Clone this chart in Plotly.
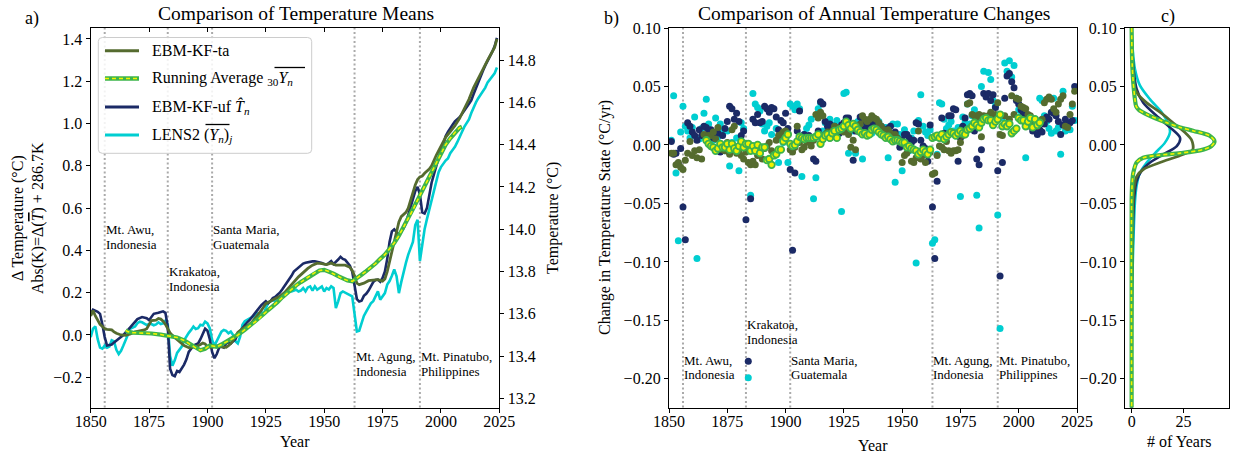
import plotly.graph_objects as go

W, H = 1235, 456
FONT = "Liberation Serif"

C_TA = "#556b2f"
C_UF = "#1b2a66"
C_LENS = "#00ced1"
C_RA_EDGE = "#3cb44b"
C_RA = "#f2f200"
C_VOLC = "#aaaaaa"

# ---------------- data ----------------
volcano_years = [1856, 1883, 1902, 1963, 1991]
volcano_line1 = ["Mt. Awu,", "Krakatoa,", "Santa Maria,", "Mt. Agung,", "Mt. Pinatubo,"]
volcano_line2 = ["Indonesia", "Indonesia", "Guatemala", "Indonesia", "Philippines"]

# Panel a: temperature means (anomaly, deg C)
uf_years = [1850, 1851, 1853, 1854, 1855, 1856, 1857, 1859, 1860, 1862, 1864, 1866, 1868, 1870, 1872, 1874,
            1875, 1877, 1879, 1881, 1882, 1883, 1884, 1885, 1886, 1887, 1888, 1889, 1890, 1891, 1892, 1893,
            1894, 1895, 1896, 1897, 1898, 1899, 1900, 1901, 1902, 1903, 1904, 1905, 1906, 1907, 1908, 1909,
            1910, 1911, 1912, 1913, 1914, 1915, 1916, 1917, 1918, 1919, 1920, 1921, 1922, 1923, 1924, 1925,
            1926, 1927, 1928, 1929, 1930, 1931, 1932, 1933, 1934, 1935, 1936, 1937, 1938, 1939, 1940, 1941,
            1942, 1943, 1944, 1945, 1946, 1947, 1948, 1949, 1950, 1951, 1952, 1953, 1954, 1955, 1956, 1957,
            1958, 1959, 1960, 1961, 1962, 1963, 1964, 1965, 1966, 1967, 1968, 1969, 1970, 1971, 1972, 1973,
            1974, 1975, 1976, 1977, 1978, 1979, 1980, 1981, 1982, 1983, 1984, 1985, 1986, 1987, 1988, 1989,
            1990, 1991, 1992, 1993, 1994, 1995, 1996, 1997, 1998, 1999, 2000, 2001, 2002, 2003, 2004, 2005,
            2006, 2007, 2008, 2009, 2010, 2011, 2012, 2013, 2014, 2015, 2016, 2017, 2018, 2019, 2020, 2021,
            2022, 2023, 2024]
uf_vals = [0.10, 0.12, 0.11, 0.10, 0.05, -0.01, -0.05, -0.045, -0.035, -0.016, 0.0, 0.024, 0.048, 0.075, 0.085, 0.079,
           0.07, 0.10, 0.105, 0.112, 0.105, 0.04, -0.16, -0.19, -0.195, -0.17, -0.175, -0.16, -0.14, -0.115, -0.08, -0.065,
           -0.05, -0.045, -0.04, -0.02, 0.01, 0.03, 0.02, -0.02, -0.08, -0.11, -0.09, -0.06, -0.055, -0.06, -0.04, -0.035,
           -0.04, -0.03, -0.02, 0.005, 0.02, 0.035, 0.05, 0.06, 0.07, 0.085, 0.10, 0.11, 0.125, 0.14, 0.15, 0.16,
           0.15, 0.16, 0.175, 0.18, 0.19, 0.20, 0.215, 0.23, 0.245, 0.26, 0.28, 0.30, 0.31, 0.32, 0.33, 0.338,
           0.342, 0.345, 0.347, 0.348, 0.349, 0.347, 0.343, 0.34, 0.336, 0.334, 0.34, 0.349, 0.335, 0.345, 0.357, 0.37,
           0.36, 0.355, 0.34, 0.328, 0.30, 0.23, 0.17, 0.158, 0.162, 0.185, 0.195, 0.21, 0.23, 0.25, 0.26, 0.262,
           0.252, 0.27, 0.30, 0.36, 0.44, 0.49, 0.50, 0.485, 0.475, 0.49, 0.505, 0.53, 0.565, 0.61, 0.645, 0.68,
           0.70, 0.665, 0.58, 0.575, 0.60, 0.66, 0.72, 0.76, 0.80, 0.84, 0.875, 0.90, 0.94, 0.96, 0.98, 0.995,
           1.01, 1.02, 1.03, 1.045, 1.06, 1.075, 1.09, 1.11, 1.14, 1.17, 1.20, 1.225, 1.25, 1.275, 1.295, 1.32,
           1.34, 1.365, 1.405]

ta_years = [1850, 1851, 1852, 1853, 1854, 1855, 1856, 1857, 1858, 1859, 1860, 1861, 1863, 1865, 1867, 1869,
            1871, 1873, 1874, 1875, 1876, 1878, 1879, 1880, 1881, 1882, 1883, 1884, 1885, 1886, 1888, 1890,
            1892, 1894, 1895, 1897, 1898, 1899, 1900, 1902, 1904, 1906, 1908, 1909, 1910, 1911, 1912, 1913,
            1915, 1917, 1919, 1921, 1923, 1925, 1927, 1929, 1931, 1933, 1935, 1937, 1939, 1941, 1943, 1945,
            1947, 1949, 1951, 1953, 1955, 1957, 1959, 1961, 1962, 1963, 1964, 1965, 1967, 1969, 1971, 1973,
            1975, 1976, 1977, 1978, 1979, 1980, 1981, 1982, 1983, 1984, 1985, 1986, 1987, 1988, 1989, 1990,
            1991, 1992, 1993, 1995, 1996, 1998, 2000, 2002, 2004, 2006, 2008, 2010, 2012, 2014, 2016, 2018,
            2020, 2022, 2023, 2024]
ta_vals = [0.09, 0.115, 0.09, 0.07, 0.05, 0.04, 0.03, 0.027, 0.025, 0.024, 0.015, 0.008, 0.0, -0.002, 0.005, 0.015,
           0.02, 0.024, 0.03, 0.05, 0.068, 0.07, 0.078, 0.075, 0.065, 0.05, 0.03, 0.01, -0.002, -0.012, -0.03, -0.05,
           -0.06, -0.058, -0.056, -0.045, -0.038, -0.042, -0.055, -0.058, -0.052, -0.056, -0.058, -0.05, -0.04, -0.025, -0.005, 0.012,
           0.03, 0.042, 0.06, 0.085, 0.115, 0.148, 0.16, 0.17, 0.183, 0.20, 0.225, 0.252, 0.275, 0.295, 0.315, 0.33,
           0.34, 0.338, 0.333, 0.34, 0.33, 0.33, 0.33, 0.32, 0.305, 0.28, 0.245, 0.238, 0.245, 0.257, 0.26, 0.262,
           0.255, 0.265, 0.30, 0.35, 0.39, 0.44, 0.485, 0.535, 0.56, 0.57, 0.58, 0.60, 0.64, 0.675, 0.71, 0.735,
           0.748, 0.752, 0.765, 0.785, 0.80, 0.85, 0.895, 0.935, 0.962, 0.99, 1.025, 1.07, 1.115, 1.17, 1.215, 1.26,
           1.30, 1.34, 1.36, 1.40]

ra_years = [1865, 1866, 1868, 1872, 1876, 1880, 1884, 1887, 1890, 1892, 1894, 1896, 1897, 1899, 1901, 1903,
            1904, 1906, 1908, 1910, 1912, 1914, 1916, 1918, 1920, 1922, 1924, 1926, 1928, 1930, 1932, 1934,
            1936, 1938, 1940, 1942, 1944, 1946, 1948, 1950, 1952, 1954, 1956, 1958, 1960, 1962, 1964, 1966,
            1968, 1970, 1972, 1974, 1976, 1978, 1980, 1982, 1984, 1986, 1988, 1990, 1992, 1994, 1996, 1998,
            2000, 2002, 2004, 2006, 2008, 2009]
ra_vals = [0.022, 0.015, 0.011, 0.010, 0.007, 0.002, -0.005, -0.012, -0.026, -0.040, -0.056, -0.068, -0.072, -0.065, -0.050, -0.054,
           -0.056, -0.045, -0.032, -0.022, -0.010, 0.008, 0.024, 0.042, 0.060, 0.075, 0.098, 0.118, 0.135, 0.155, 0.178, 0.198,
           0.218, 0.235, 0.250, 0.265, 0.280, 0.295, 0.305, 0.308, 0.300, 0.290, 0.278, 0.266, 0.258, 0.254, 0.268, 0.285,
           0.302, 0.318, 0.338, 0.360, 0.380, 0.408, 0.435, 0.470, 0.510, 0.550, 0.592, 0.638, 0.682, 0.725, 0.770, 0.815,
           0.858, 0.900, 0.930, 0.958, 0.980, 0.985]

lens_years = list(range(1850, 2025))
lens_vals = [-0.01, 0.03, 0.04, -0.02, -0.06, -0.065, -0.05, -0.06, -0.055, -0.025,
             -0.03, -0.07, -0.09, -0.075, -0.05, -0.02, 0.008, 0.03, 0.035, 0.04,
             0.056, 0.063, 0.06, 0.055, 0.047, 0.052, 0.052, 0.046, 0.05, 0.06,
             0.052, 0.055, 0.068, 0.05, -0.10, -0.145, -0.12, -0.085, -0.07, -0.055,
             -0.025, -0.005, 0.01, 0.024, 0.04, 0.028, 0.032, 0.048, 0.045, 0.063,
             0.055, 0.032, -0.024, -0.05, -0.028, 0.0, 0.016, 0.024, 0.02, 0.008,
             0.016, 0.0, -0.03, -0.04, -0.008, 0.048, 0.065, 0.072, 0.079, 0.085,
             0.09, 0.103, 0.10, 0.111, 0.095, 0.127, 0.15, 0.16, 0.167, 0.159,
             0.165, 0.175, 0.183, 0.19, 0.198, 0.206, 0.206, 0.21, 0.214, 0.206,
             0.21, 0.222, 0.206, 0.225, 0.23, 0.21, 0.23, 0.214, 0.222, 0.23,
             0.206, 0.222, 0.215, 0.23, 0.222, 0.127, 0.159, 0.198, 0.206, 0.20,
             0.198, 0.19, 0.183, 0.10, 0.016, 0.02, 0.06, 0.09, 0.111, 0.13,
             0.15, 0.16, 0.183, 0.206, 0.167, 0.185, 0.198, 0.238, 0.255, 0.28,
             0.31, 0.278, 0.198, 0.25, 0.30, 0.341, 0.38, 0.41, 0.44, 0.52,
             0.545, 0.35, 0.43, 0.50, 0.548, 0.59, 0.63, 0.68, 0.725, 0.77,
             0.794, 0.81, 0.825, 0.835, 0.86, 0.875, 0.89, 0.912, 0.94, 0.96,
             0.984, 1.00, 1.02, 1.05, 1.08, 1.10, 1.12, 1.135, 1.15, 1.17,
             1.195, 1.21, 1.22, 1.238, 1.265]

abs_offset = 13.5  # right axis = anomaly + offset (deg C)

# Panel b: annual changes (deg C / yr)
chg_years = list(range(1851, 2025))
ta_chg = [-0.007, -0.007, -0.017, -0.015, -0.019, -0.021, -0.013, -0.007, 0.003, -0.009,
          -0.005, -0.011, -0.004, -0.012, 0.009, 0.005, 0.008, 0.008, 0.011, 0.005,
          0.015, -0.001, -0.004, -0.005, 0.002, -0.008, 0.013, 0.016, -0.007, -0.004,
          -0.009, -0.012, -0.006, -0.015, -0.017, -0.014, -0.017, -0.009, -0.007, -0.012,
          -0.003, -0.001, 0.002, -0.005, -0.008, 0.004, 0.008, 0.009, 0.011, 0.012,
          0.009, -0.004, -0.006, -0.002, 0.016, 0.002, -0.004, -0.002, 0.003, 0.002,
          -0.001, 0.004, 0.026, 0.023, 0.028, 0.025, 0.009, 0.011, 0.006, 0.012,
          0.016, 0.015, 0.012, 0.014, 0.011, 0.013, 0.009, -0.002, 0.004, -0.004,
          0.012, 0.018, 0.025, 0.022, 0.020, 0.022, 0.025, 0.023, 0.022, 0.019,
          0.016, 0.013, 0.011, 0.013, 0.010, 0.008, 0.009, 0.006, 0.003, -0.015,
          -0.009, -0.007, -0.004, -0.014, -0.015, -0.011, 0.012, -0.012, -0.009, -0.015,
          -0.008, -0.006, -0.025, -0.024, -0.009, -0.001, -0.002, -0.004, 0.003, -0.005,
          -0.007, -0.005, -0.005, -0.004, 0.002, 0.008, 0.011, 0.035, 0.036, 0.026,
          0.025, 0.022, 0.026, 0.007, 0.025, 0.023, 0.025, 0.028, 0.023, 0.026,
          0.036, 0.009, 0.008, 0.025, 0.016, 0.022, 0.042, 0.026, 0.040, 0.039,
          0.033, 0.032, 0.031, 0.026, 0.025, 0.019, 0.022, 0.016, 0.019, 0.022,
          0.036, 0.039, 0.041, 0.039, 0.031, 0.028, 0.035, 0.039, 0.042, 0.016,
          0.015, 0.026, 0.035, 0.046]
uf_chg = [0.003, -0.008, -0.007, -0.016, -0.003, -0.053, -0.081, 0.019, 0.016, 0.011,
          0.008, 0.004, 0.013, 0.008, 0.016, 0.015, 0.012, 0.013, 0.006, -0.004,
          0.010, -0.006, 0.008, 0.014, 0.020, 0.033, 0.031, 0.022, 0.027, 0.020,
          0.008, 0.012, -0.064, -0.185, -0.046, 0.022, 0.019, 0.026, 0.019, 0.020,
          0.033, 0.031, 0.028, 0.032, 0.031, 0.024, 0.013, 0.021, 0.019, 0.027,
          0.014, -0.021, -0.090, -0.024, 0.012, 0.029, 0.006, 0.009, 0.004, 0.008,
          0.003, -0.012, -0.014, 0.012, 0.037, 0.035, 0.020, 0.016, 0.018, 0.012,
          0.016, 0.014, 0.010, 0.017, 0.019, 0.023, 0.023, 0.015, -0.013, 0.012,
          0.012, 0.024, 0.020, 0.014, 0.019, 0.016, 0.019, 0.018, 0.019, 0.018,
          0.016, 0.012, 0.010, 0.014, 0.016, 0.008, 0.011, 0.005, -0.002, 0.004,
          0.009, 0.009, 0.006, 0.002, 0.004, 0.019, 0.018, 0.004, -0.001, -0.003,
          -0.014, 0.017, -0.053, -0.097, -0.031, 0.006, 0.023, 0.010, 0.008, 0.025,
          0.025, 0.031, 0.030, -0.014, 0.006, 0.016, 0.023, 0.043, 0.044, 0.042,
          0.012, -0.012, -0.017, -0.004, 0.044, 0.041, 0.044, 0.038, 0.043, 0.032,
          -0.022, -0.112, -0.015, 0.040, 0.059, 0.061, 0.054, 0.049, 0.038, 0.035,
          0.030, 0.027, 0.022, 0.020, 0.016, 0.012, 0.015, 0.009, 0.013, 0.011,
          0.018, 0.024, 0.022, 0.028, 0.027, 0.025, 0.020, 0.009, 0.017, 0.022,
          0.018, 0.019, 0.021, 0.050]
lens_chg = [0.004, 0.042, -0.024, -0.082, 0.011, 0.033, 0.016, 0.012, 0.006, 0.015,
            0.024, -0.097, 0.005, 0.014, 0.027, 0.039, 0.018, 0.012, 0.004, 0.023,
            0.007, 0.018, 0.013, -0.005, 0.012, -0.018, 0.002, -0.004, 0.006, -0.022,
            0.019, 0.014, -0.003, -0.199, -0.043, 0.044, 0.035, 0.032, 0.029, 0.018,
            0.012, 0.016, 0.019, 0.009, -0.008, 0.014, -0.015, 0.006, 0.002, 0.008,
            -0.015, 0.035, 0.033, 0.030, 0.035, 0.031, -0.027, 0.009, 0.014, 0.017,
            0.022, -0.046, -0.028, 0.031, 0.036, 0.012, 0.019, 0.013, 0.022, 0.017,
            0.015, 0.021, 0.010, -0.057, 0.044, 0.045, -0.007, 0.018, 0.012, -0.007,
            0.020, 0.014, -0.012, 0.015, 0.018, 0.012, 0.010, 0.017, 0.014, 0.020,
            0.016, 0.013, 0.015, -0.011, 0.006, 0.018, -0.032, 0.018, 0.009, -0.022,
            0.013, 0.009, -0.005, 0.006, 0.012, -0.101, 0.021, 0.043, 0.016, 0.011,
            0.008, 0.013, -0.084, -0.081, -0.008, 0.036, 0.035, 0.022, 0.014, 0.017,
            0.020, 0.012, 0.010, 0.015, -0.044, 0.024, 0.019, 0.035, 0.018, 0.025,
            0.030, -0.043, -0.071, 0.050, 0.063, 0.043, 0.062, 0.056, 0.038, 0.033,
            -0.060, -0.157, 0.023, 0.070, 0.063, 0.072, 0.058, 0.068, 0.040, 0.030,
            0.025, 0.028, -0.011, 0.018, 0.020, 0.016, 0.013, 0.020, 0.040, 0.038,
            0.025, 0.020, 0.014, 0.010, 0.040, 0.012, 0.015, -0.008, 0.046, 0.012,
            0.016, 0.013, 0.033, 0.021]
ra_chg_years = list(range(1866, 2010))
ra_chg = [0.004, 0.001, -0.001, -0.002, -0.005,
          -0.003, 0.001, -0.002, -0.002, 0.001, -0.004, 0.001, -0.003, -0.005, -0.001,
          0.003, -0.002, 0.001, 0.001, -0.005, -0.001, -0.005, 0.000, -0.007, -0.002,
          -0.002, -0.013, -0.012, -0.017, -0.009, -0.008, -0.004, -0.004, 0.003, 0.006,
          0.009, 0.001, -0.001, 0.000, 0.003, 0.007, 0.006, 0.005, 0.006, 0.006,
          0.006, 0.006, 0.007, 0.009, 0.001, 0.005, 0.008, 0.009, 0.006, 0.010,
          0.012, 0.006, 0.013, 0.014, 0.016, 0.020, 0.017, 0.014, 0.018, 0.016,
          0.013, 0.011, 0.009, 0.010, 0.008, 0.009, 0.013, 0.014, 0.013, 0.011,
          0.009, 0.008, 0.006, 0.007, 0.005, 0.003, 0.004, 0.004, 0.003, 0.002,
          0.002, -0.002, -0.001, -0.003, -0.004, -0.005, -0.008, -0.006, -0.004, -0.006,
          -0.008, -0.004, 0.006, 0.007, 0.008, 0.006, 0.009, 0.005, 0.007, 0.009,
          0.011, 0.010, 0.008, 0.010, 0.012, 0.010, 0.009, 0.013, 0.014, 0.016,
          0.019, 0.017, 0.015, 0.019, 0.022, 0.023, 0.021, 0.021, 0.017, 0.020,
          0.022, 0.026, 0.016, 0.018, 0.016, 0.018, 0.010, 0.012, 0.014, 0.023,
          0.021, 0.021, 0.016, 0.020, 0.023, 0.015, 0.022, 0.017, 0.019]

# Panel c: distributions (# of years) along the change axis
ra_dist_y = [0.10, 0.068, 0.053, 0.039, 0.033, 0.030, 0.026, 0.019, 0.015, 0.012, 0.008, 0.003, -0.001, -0.004,
             -0.007, -0.009, -0.011, -0.015, -0.024, -0.032, -0.047, -0.225]
ra_dist_x = [0.0, 0.3, 0.8, 1.6, 2.2, 3.5, 7.5, 17.0, 23.5, 30.0, 37.5, 40.0, 38.5, 34.5,
             23.5, 12.0, 5.6, 2.4, 0.8, 0.3, 0.0, 0.0]
ta_dist_y = [0.10, 0.068, 0.055, 0.048, 0.043, 0.036, 0.028, 0.019, 0.011, 0.004, -0.004, -0.009, -0.015,
             -0.021, -0.027, -0.038, -0.061, -0.09, -0.12, -0.225]
ta_dist_x = [0.0, 0.3, 0.8, 1.6, 3.2, 7.3, 13.7, 20.0, 25.5, 29.0, 29.5, 23.4, 13.7,
             5.6, 2.4, 1.1, 0.5, 0.2, 0.05, 0.0]
uf_dist_y = [0.10, 0.09, 0.076, 0.062, 0.048, 0.036, 0.025, 0.015, 0.006, -0.001, -0.008, -0.015, -0.022,
             -0.031, -0.044, -0.061, -0.089, -0.118, -0.15, -0.225]
uf_dist_x = [0.0, 0.1, 0.5, 1.1, 2.4, 5.6, 12.0, 18.5, 23.4, 21.8, 15.3, 8.9, 4.8,
             2.4, 1.3, 0.8, 0.5, 0.2, 0.05, 0.0]
lens_dist_y = [0.10, 0.082, 0.065, 0.051, 0.039, 0.028, 0.018, 0.011, 0.002, -0.007, -0.015, -0.024, -0.035,
               -0.049, -0.069, -0.104, -0.132, -0.17, -0.225]
lens_dist_x = [0.0, 0.5, 1.6, 4.0, 8.9, 14.5, 17.7, 18.5, 16.1, 11.3, 7.3, 4.0, 2.4,
               1.6, 1.1, 0.5, 0.2, 0.05, 0.0]

# ---------------- layout helpers ----------------
def fx(px):
    return px / W


def fy(py):
    return 1 - py / H


PA = (90.7, 499.3)
PB = (669.0, 1077.0)
PC = (1125.0, 1229.0)
PY = (28.0, 407.5)
YA_RANGE = [-0.343, 1.452]
YB_RANGE = [-0.2245, 0.1]

tickfont = dict(family=FONT, size=16, color="black")
axis_common = dict(showgrid=False, zeroline=False, showline=True, linecolor="black", linewidth=1.3,
                   ticks="outside", ticklen=4, tickwidth=1.2, tickcolor="black", tickfont=tickfont,
                   automargin=False)

fig = go.Figure()

# ---------- panel a ----------
fig.add_trace(go.Scatter(x=lens_years, y=lens_vals, mode="lines", line=dict(color=C_LENS, width=2.6),
                         xaxis="x", yaxis="y", showlegend=False, hoverinfo="skip"))
fig.add_trace(go.Scatter(x=uf_years, y=uf_vals, mode="lines", line=dict(color=C_UF, width=2.6),
                         xaxis="x", yaxis="y", showlegend=False, hoverinfo="skip"))
fig.add_trace(go.Scatter(x=ta_years, y=ta_vals, mode="lines", line=dict(color=C_TA, width=2.8),
                         xaxis="x", yaxis="y", showlegend=False, hoverinfo="skip"))
fig.add_trace(go.Scatter(x=ra_years, y=ra_vals, mode="lines", line=dict(color=C_RA_EDGE, width=4.2),
                         xaxis="x", yaxis="y", showlegend=False, hoverinfo="skip"))
fig.add_trace(go.Scatter(x=ra_years, y=ra_vals, mode="lines", line=dict(color=C_RA, width=1.6, dash="4px,3px"),
                         xaxis="x", yaxis="y", showlegend=False, hoverinfo="skip"))
# right absolute-temperature axis and top tick axis
fig.add_trace(go.Scatter(x=[None], y=[None], xaxis="x", yaxis="y2", showlegend=False, hoverinfo="skip"))
fig.add_trace(go.Scatter(x=[None], y=[None], xaxis="x4", yaxis="y", showlegend=False, hoverinfo="skip"))

# ---------- panel b ----------
fig.add_trace(go.Scatter(x=chg_years, y=lens_chg, mode="markers", marker=dict(color=C_LENS, size=7),
                         xaxis="x2", yaxis="y3", showlegend=False, hoverinfo="skip"))
fig.add_trace(go.Scatter(x=chg_years, y=uf_chg, mode="markers", marker=dict(color=C_UF, size=7),
                         xaxis="x2", yaxis="y3", showlegend=False, hoverinfo="skip"))
fig.add_trace(go.Scatter(x=chg_years, y=ta_chg, mode="markers", marker=dict(color=C_TA, size=7),
                         xaxis="x2", yaxis="y3", showlegend=False, hoverinfo="skip"))
fig.add_trace(go.Scatter(x=ra_chg_years, y=ra_chg, mode="markers",
                         marker=dict(color=C_RA, size=6.5, line=dict(color=C_RA_EDGE, width=1.8)),
                         xaxis="x2", yaxis="y3", showlegend=False, hoverinfo="skip"))

# ---------- panel c ----------
for dx, dy, col, w in [(lens_dist_x, lens_dist_y, C_LENS, 2.6), (uf_dist_x, uf_dist_y, C_UF, 2.6),
                       (ta_dist_x, ta_dist_y, C_TA, 2.8)]:
    fig.add_trace(go.Scatter(x=dx, y=dy, mode="lines", line=dict(color=col, width=w, shape="spline", smoothing=0.8),
                             xaxis="x3", yaxis="y4", showlegend=False, hoverinfo="skip"))
fig.add_trace(go.Scatter(x=ra_dist_x, y=ra_dist_y, mode="lines",
                         line=dict(color=C_RA_EDGE, width=4.2, shape="spline", smoothing=0.8),
                         xaxis="x3", yaxis="y4", showlegend=False, hoverinfo="skip"))
fig.add_trace(go.Scatter(x=ra_dist_x, y=ra_dist_y, mode="lines",
                         line=dict(color=C_RA, width=1.6, dash="4px,3px", shape="spline", smoothing=0.8),
                         xaxis="x3", yaxis="y4", showlegend=False, hoverinfo="skip"))

year_ticks = [1850, 1875, 1900, 1925, 1950, 1975, 2000, 2025]

fig.update_layout(
    width=W, height=H, margin=dict(l=0, r=0, t=0, b=0, autoexpand=False),
    paper_bgcolor="white", plot_bgcolor="white", showlegend=False,
    font=dict(family=FONT, size=16, color="black"),
    xaxis=dict(domain=[fx(PA[0]), fx(PA[1])], range=[1850, 2025], tickvals=year_ticks, anchor="y",
               mirror=True, **axis_common),
    xaxis4=dict(domain=[fx(PA[0]), fx(PA[1])], range=[1850, 2025], tickvals=year_ticks, anchor="y",
                overlaying="x", side="top", showticklabels=False, showgrid=False, zeroline=False,
                showline=False, ticks="inside", ticklen=4, tickwidth=1.2, tickcolor="black", automargin=False),
    yaxis=dict(domain=[fy(PY[1]), fy(PY[0])], range=YA_RANGE, tick0=0, dtick=0.2, tickformat=".1f",
               anchor="x", mirror=True, **axis_common),
    yaxis2=dict(range=[YA_RANGE[0] + abs_offset, YA_RANGE[1] + abs_offset], tick0=13.2, dtick=0.2,
                tickformat=".1f", overlaying="y", side="right", anchor="x", **axis_common),
    xaxis2=dict(domain=[fx(PB[0]), fx(PB[1])], range=[1850, 2025], tickvals=year_ticks, anchor="y3",
                mirror=True, **axis_common),
    yaxis3=dict(domain=[fy(PY[1]), fy(PY[0])], range=YB_RANGE, tick0=0, dtick=0.05, tickformat=".2f",
                anchor="x2", mirror=True, **axis_common),
    xaxis3=dict(domain=[fx(PC[0]), fx(PC[1])], range=[-3.2, 47], tickvals=[0, 25], anchor="y4",
                mirror=True, **axis_common),
    yaxis4=dict(domain=[fy(PY[1]), fy(PY[0])], range=YB_RANGE, tick0=0, dtick=0.05, tickformat=".2f",
                anchor="x3", mirror=True, **axis_common),
)
# pull the year / count tick labels a little closer to the axis line
for ax in ("xaxis", "xaxis2", "xaxis3"):
    try:
        fig.layout[ax].ticklabelstandoff = -5
    except Exception:
        pass

shapes = []
# volcano reference lines
for vy in volcano_years:
    for xr, yr in [("x", "y domain"), ("x2", "y3 domain")]:
        shapes.append(dict(type="line", xref=xr, yref=yr, x0=vy, x1=vy, y0=0, y1=1, layer="below",
                           line=dict(color=C_VOLC, width=2, dash="2px,2.5px")))

# legend box (panel a)
lx0, lx1, ly0, ly1 = fx(98.3), fx(311.7), fy(153.3), fy(37.5)
rx, ry = 4 / W, 4 / H
path = (f"M {lx0+rx},{ly1} L {lx1-rx},{ly1} Q {lx1},{ly1} {lx1},{ly1-ry} L {lx1},{ly0+ry} "
        f"Q {lx1},{ly0} {lx1-rx},{ly0} L {lx0+rx},{ly0} Q {lx0},{ly0} {lx0},{ly0+ry} "
        f"L {lx0},{ly1-ry} Q {lx0},{ly1} {lx0+rx},{ly1} Z")
shapes.append(dict(type="path", xref="paper", yref="paper", path=path, fillcolor="rgba(255,255,255,0.85)",
                   line=dict(color="#cccccc", width=1), layer="above"))
leg_rows = [50.7, 78.5, 107.0, 135.0]
leg_styles = [[dict(color=C_TA, width=3)],
              [dict(color=C_RA_EDGE, width=4.5), dict(color=C_RA, width=1.6, dash="4px,3px")],
              [dict(color=C_UF, width=3)],
              [dict(color=C_LENS, width=3)]]
for ry_px, styles in zip(leg_rows, leg_styles):
    for st in styles:
        shapes.append(dict(type="line", xref="paper", yref="paper", x0=fx(105), x1=fx(139),
                           y0=fy(ry_px), y1=fy(ry_px), line=st, layer="above"))
# overline bars of the math symbols in the legend (mean notation)
for x0p, x1p, yp in [(274.5, 305.0, 67.5), (205.5, 229.5, 124.5)]:
    shapes.append(dict(type="line", xref="paper", yref="paper", x0=fx(x0p), x1=fx(x1p),
                       y0=fy(yp), y1=fy(yp), line=dict(color="black", width=1.3), layer="above"))
fig.update_layout(shapes=shapes)

ann = []


def txt(x, y, text, size=16, xanchor="center", yanchor="middle", angle=0, xref="paper", yref="paper"):
    ann.append(dict(x=x, y=y, xref=xref, yref=yref, text=text, showarrow=False, xanchor=xanchor,
                    yanchor=yanchor, textangle=angle, borderpad=0,
                    font=dict(family=FONT, size=size, color="black")))


OL = "<span style='text-decoration:overline'>"
leg_texts = ["EBM-KF-ta",
             "Running Average <sub>30</sub><i>Y</i><sub><i>n</i></sub>",
             "EBM-KF-uf <i>T\u0302</i><sub><i>n</i></sub>",
             "LENS2 (<i>Y</i><sub><i>n</i></sub>)<sub><i>j</i></sub>"]
for ry_px, t in zip(leg_rows, leg_texts):
    txt(fx(151), fy(ry_px), t, size=16, xanchor="left")

# titles
txt(fx(296), fy(14), "Comparison of Temperature Means", size=19.5)
txt(fx(874), fy(14), "Comparison of Annual Temperature Changes", size=19.5)
txt(fx(32), fy(18), "a)", size=18)
txt(fx(611), fy(18), "b)", size=18)
txt(fx(1168), fy(17), "c)", size=18)

# axis titles
txt(fx(295), fy(441), "Year")
txt(fx(873), fy(445), "Year")
txt(fx(1179), fy(441), "# of Years")
txt(fx(18), fy(218), "\u0394 Temperature (\u00b0C)", angle=-90)
txt(fx(38), fy(218), f"Abs(K)=\u0394({OL}<i>T</i></span>) + 286.7K", angle=-90)
txt(fx(553), fy(218), "Temperature (\u00b0C)", angle=-90)
txt(fx(605), fy(218), "Change in Temperature State (\u00b0C/yr)", angle=-90)

# volcano labels: panel a (data units of left axis) and panel b; two lines, 14.5 px apart
A_PER_PX = 1 / 210.0
B_PER_PX = 1 / 1168.0
a_label_mid = [0.464, 0.264, 0.464, -0.136, -0.136]
b_label_mid = [-0.1903, -0.1600, -0.1903, -0.1903, -0.1903]
for vy, l1, l2, am, bm in zip(volcano_years, volcano_line1, volcano_line2, a_label_mid, b_label_mid):
    txt(vy, am + 7.25 * A_PER_PX, l1, size=13, xanchor="left", xref="x", yref="y")
    txt(vy, am - 7.25 * A_PER_PX, l2, size=13, xanchor="left", xref="x", yref="y")
    txt(vy, bm + 7.25 * B_PER_PX, l1, size=13, xanchor="left", xref="x2", yref="y3")
    txt(vy, bm - 7.25 * B_PER_PX, l2, size=13, xanchor="left", xref="x2", yref="y3")

fig.update_layout(annotations=ann)
fig.write_html("out.html")
